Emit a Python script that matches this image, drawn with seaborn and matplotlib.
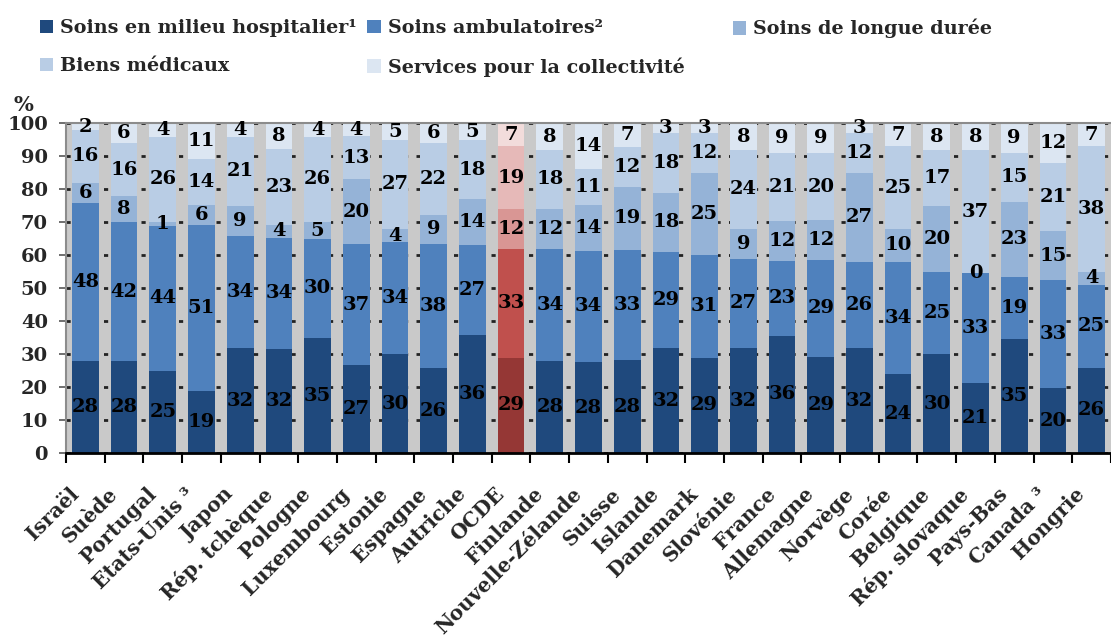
import numpy as np
import pandas as pd
import matplotlib
matplotlib.use("Agg")
import matplotlib.pyplot as plt
import matplotlib.transforms as mtransforms
from matplotlib.patches import Patch
import seaborn as sns

countries = ["Israël", "Suède", "Portugal", "Etats-Unis ³", "Japon", "Rép. tchèque",
             "Pologne", "Luxembourg", "Estonie", "Espagne", "Autriche", "OCDE",
             "Finlande", "Nouvelle-Zélande", "Suisse", "Islande", "Danemark",
             "Slovénie", "France", "Allemagne", "Norvège", "Corée", "Belgique",
             "Rép. slovaque", "Pays-Bas", "Canada ³", "Hongrie"]
hospital = [28, 28, 25, 19, 32, 32, 35, 27, 30, 26, 36, 29, 28, 28, 28, 32, 29,
            32, 36, 29, 32, 24, 30, 21, 35, 20, 26]
ambulatory = [48, 42, 44, 51, 34, 34, 30, 37, 34, 38, 27, 33, 34, 34, 33, 29, 31,
              27, 23, 29, 26, 34, 25, 33, 19, 33, 25]
long_term = [6, 8, 1, 6, 9, 4, 5, 20, 4, 9, 14, 12, 12, 14, 19, 18, 25,
             9, 12, 12, 27, 10, 20, 0, 23, 15, 4]
medical_goods = [16, 16, 26, 14, 21, 23, 26, 13, 27, 22, 18, 19, 18, 11, 12, 18, 12,
                 24, 21, 20, 12, 25, 17, 37, 15, 21, 38]
collective = [2, 6, 4, 11, 4, 8, 4, 4, 5, 6, 5, 7, 8, 14, 7, 3, 3,
              8, 9, 9, 3, 7, 8, 8, 9, 12, 7]
series_names = ["Soins en milieu hospitalier¹", "Soins ambulatoires²",
                "Soins de longue durée", "Biens médicaux",
                "Services pour la collectivité"]
highlight = "OCDE"

blues = ["#1F497D", "#4F81BD", "#95B3D7", "#B9CDE5", "#DCE6F2"]
reds = ["#953735", "#C0504D", "#D99694", "#E6B9B8", "#F2DCDB"]

sns.set_style("white")
plt.rcParams["font.family"] = ["DejaVu Serif"]
plt.rcParams["font.weight"] = "bold"

W, H = 1111, 637
fig = plt.figure(figsize=(W / 100, H / 100), dpi=100)
y0, y100 = 453.3, 123.3
ax = fig.add_axes([66 / W, (H - y0) / H, (W - 66) / W, (y0 - y100) / H])
ax.set_facecolor("#C9C9C9")

vals = np.array([hospital, ambulatory, long_term, medical_goods, collective], float)
shares = vals / vals.sum(axis=0) * 100
cum = np.cumsum(shares, axis=0)

for k in range(4, -1, -1):
    df = pd.DataFrame({"pays": countries, "v": cum[k]})
    pal = {c: (reds[k] if c == highlight else blues[k]) for c in countries}
    sns.barplot(data=df, x="pays", y="v", hue="pays", palette=pal, order=countries,
                hue_order=countries, width=0.69, legend=False, saturation=1,
                linewidth=0, ax=ax)

for k in range(5):
    for i in range(len(countries)):
        ax.text(i, cum[k, i] - shares[k, i] / 2, f"{vals[k, i]:.0f}", ha="center",
                va="center", fontsize=14, fontweight="bold", color="black")

ax.set_xlim(-0.5, 26.32)
ax.set_ylim(0, 100)
ax.set_xlabel("")
ax.set_ylabel("")

ax.set_yticks(range(0, 101, 10))
ax.tick_params(axis="y", which="major", length=5, width=1.2, color="#555555",
               labelsize=14, pad=8, left=True)
ax.yaxis.grid(True, linestyle=(0, (1.5, 3)), color="#222222", linewidth=2)
ax.xaxis.grid(False)
ax.set_axisbelow(True)

ax.set_xticks(range(len(countries)))
ax.set_xticklabels(countries, rotation=45, ha="right", rotation_mode="anchor",
                   fontsize=14.5, fontweight="bold")
ax.tick_params(axis="x", which="major", length=0, pad=22)
ax.set_xticks(np.arange(-0.5, len(countries), 1), minor=True)
ax.tick_params(axis="x", which="minor", length=7, width=1.5, color="black",
               bottom=True)
off = mtransforms.ScaledTranslation(-0.17, 0, fig.dpi_scale_trans)
for lab in ax.get_xticklabels():
    lab.set_transform(lab.get_transform() + off)

for s in ["left", "top"]:
    ax.spines[s].set_color("#8C8C8C")
    ax.spines[s].set_linewidth(1.5)
ax.spines["right"].set_visible(False)
ax.spines["bottom"].set_color("black")
ax.spines["bottom"].set_linewidth(2)

fig.text(14 / W, 1 - 105 / H, "%", fontsize=15, fontweight="bold", va="center")

handles = [Patch(facecolor=c, edgecolor="none") for c in blues]
leg_kw = dict(loc="upper left", frameon=False, fontsize=13.8, handlelength=0.7,
              handleheight=0.7, handletextpad=0.35, labelspacing=1.05,
              borderaxespad=0, borderpad=0)
order = [0, 3, 1, 4]
fig.legend([handles[i] for i in order], [series_names[i] for i in order], ncol=2,
           bbox_to_anchor=(40 / W, 1 - 19 / H), columnspacing=0.55, **leg_kw)
fig.legend([handles[2]], [series_names[2]], ncol=1,
           bbox_to_anchor=(733 / W, 1 - 19 / H), **leg_kw)

fig.savefig("out.png", dpi=100)
